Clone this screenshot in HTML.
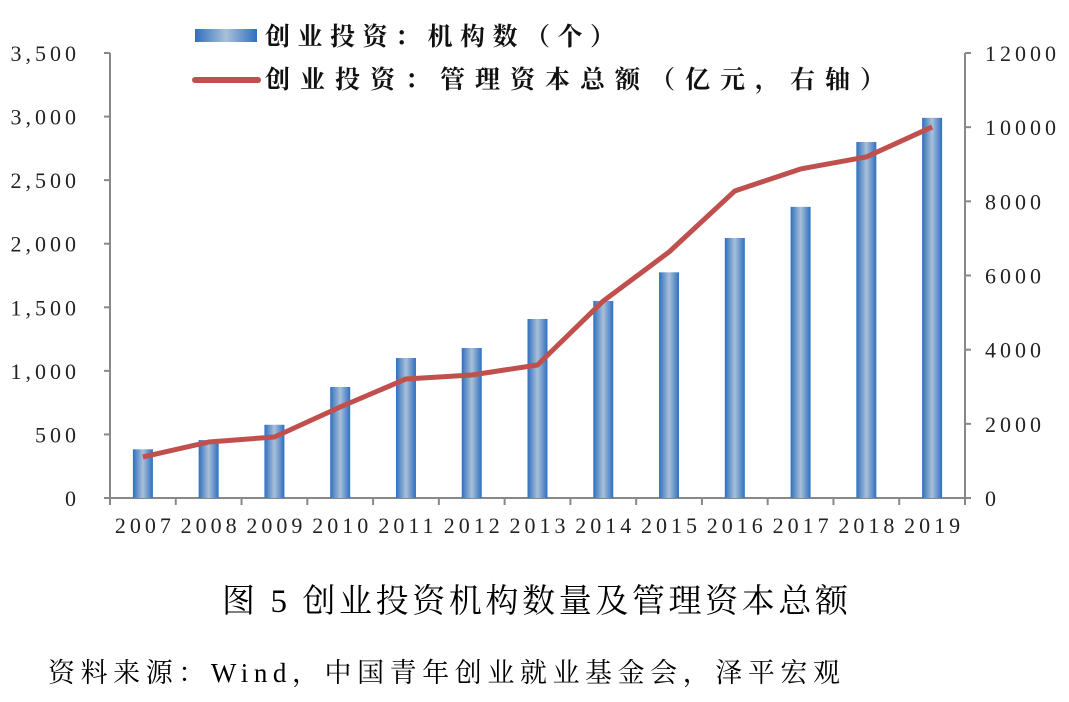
<!DOCTYPE html>
<html><head><meta charset="utf-8"><style>
body{margin:0;background:#fff;width:1069px;height:697px;overflow:hidden}
svg text{font-family:"Liberation Serif","Noto Serif CJK SC",serif}
</style></head><body>
<svg width="1069" height="697">
<defs><linearGradient id="bg" x1="0" x2="1" y1="0" y2="0">
<stop offset="0" stop-color="#2f6fc0"/><stop offset="0.5" stop-color="#a9c0d8"/><stop offset="1" stop-color="#2f6fc0"/></linearGradient></defs>
<g id="plot"></g>
<text x="222" y="612" font-size="33" letter-spacing="4" textLength="630" lengthAdjust="spacing">图 5 创业投资机构数量及管理资本总额</text>
<text x="48" y="682" font-size="27" textLength="792" lengthAdjust="spacing">资料来源：Wind，中国青年创业就业基金会，泽平宏观</text>
</svg>
<script>
const categories=["2007","2008","2009","2010","2011","2012","2013","2014","2015","2016","2017","2018","2019"];
const orgCount=[383,456,576,873,1101,1180,1408,1550,1775,2045,2290,2800,2990];
const capital=[1106,1510,1645,2454,3210,3317,3587,5313,6634,8280,8873,9197,10006];
const leftTicks=[0,500,1000,1500,2000,2500,3000,3500];
const leftLabels=["0","500","1,000","1,500","2,000","2,500","3,000","3,500"];
const rightTicks=[0,2000,4000,6000,8000,10000,12000];
const NS="http://www.w3.org/2000/svg";
const g=document.getElementById('plot');
const X0=110,X1=965,Y0=498,Y1=53;
const bw=(X1-X0)/categories.length;
const xc=i=>X0+bw*(i+0.5);
const yl=v=>Y0-(v/3500)*(Y0-Y1);
const yr=v=>Y0-(v/12000)*(Y0-Y1);
function mk(t,a){const e=document.createElementNS(NS,t);for(const k in a)e.setAttribute(k,a[k]);g.appendChild(e);return e;}
let e=mk('line',{x1:X0,y1:Y1,x2:X0,y2:Y0,stroke:'#888','stroke-width':2});


e=mk('line',{x1:X1,y1:Y1,x2:X1,y2:Y0,stroke:'#888','stroke-width':2});


e=mk('line',{x1:X0,y1:Y0,x2:X1,y2:Y0,stroke:'#888','stroke-width':2});


leftTicks.forEach((v,i)=>{
  mk('line',{x1:X0-6,y1:yl(v),x2:X0,y2:yl(v),stroke:'#888','stroke-width':2});
  const t=mk('text',{x:X0-30,y:yl(v)+8,'font-size':22,'letter-spacing':4,'text-anchor':'end',fill:'#222'});
  t.textContent=leftLabels[i];
  
  
});
rightTicks.forEach(v=>{
  mk('line',{x1:X1,y1:yr(v),x2:X1+6,y2:yr(v),stroke:'#888','stroke-width':2});
  const t=mk('text',{x:X1+20,y:yr(v)+8,'font-size':22,'letter-spacing':4,fill:'#222'});
  t.textContent=String(v);
  
  
});
for(let i=0;i<=categories.length;i++)mk('line',{x1:X0+bw*i,y1:Y0,x2:X0+bw*i,y2:Y0+7,stroke:'#888','stroke-width':2});
categories.forEach((c,i)=>{
  const b=mk('rect',{x:xc(i)-10,y:yl(orgCount[i]),width:20,height:Y0-yl(orgCount[i]),fill:'url(#bg)'});
  
  
  const t=mk('text',{x:xc(i)+2,y:533,'font-size':22,'letter-spacing':4,'text-anchor':'middle',fill:'#222'});
  t.textContent=c;
  
  
});
const ln=mk('polyline',{points:capital.map((v,i)=>xc(i)+','+yr(v)).join(' '),fill:'none',stroke:'#c0504d','stroke-width':5,'stroke-linejoin':'round'});


let r=mk('rect',{x:195,y:29,width:62,height:13,fill:'url(#bg)'});


let t=mk('text',{x:265,y:45,'font-size':25,'font-weight':'bold',textLength:350,lengthAdjust:'spacing',fill:'#111'});
t.textContent='创业投资：机构数（个）';


r=mk('line',{x1:195,y1:80,x2:258,y2:80,stroke:'#c0504d','stroke-width':6,'stroke-linecap':'round'});


t=mk('text',{x:265,y:88,'font-size':25,'font-weight':'bold',textLength:620,lengthAdjust:'spacing',fill:'#111'});
t.textContent='创业投资：管理资本总额（亿元，右轴）';


</script>
</body></html>
